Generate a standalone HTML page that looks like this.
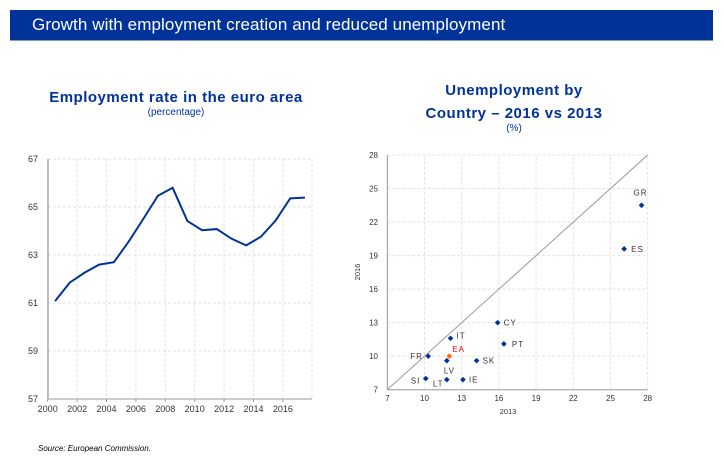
<!DOCTYPE html>
<html><head><meta charset="utf-8"><style>
body{margin:0;width:724px;height:473px;background:#fff;font-family:"Liberation Sans",sans-serif;overflow:hidden;position:relative}
#hdr{position:absolute;left:10px;top:10px;width:703px;height:30px;background:#003399;border-bottom:1px solid #7f99cc}
#hdr span{position:absolute;left:22px;top:5px;color:#fff;font-size:17px;letter-spacing:0.1px}
.t{position:absolute;color:#003399;font-weight:bold;text-align:center;font-size:15px;letter-spacing:0.5px}
.s{position:absolute;color:#003399;text-align:center;font-size:10px}
#src{position:absolute;left:38px;top:444px;font-size:8px;font-style:italic;color:#000}
svg{position:absolute;left:0;top:0}
</style></head><body>
<div id="hdr"><span>Growth with employment creation and reduced unemployment</span></div>
<div class="t" style="left:26px;width:300px;top:89px">Employment rate in the euro area</div>
<div class="s" style="left:26px;width:300px;top:107px">(percentage)</div>
<div class="t" style="left:364px;width:300px;top:79px;line-height:23px">Unemployment by<br>Country – 2016 vs 2013</div>
<div class="s" style="left:364px;width:300px;top:123px">(%)</div>
<div id="src">Source: European Commission.</div>
<svg id="c" width="724" height="473"></svg>
<script>
const years=[2000.5,2001.5,2002.5,2003.5,2004.5,2005.5,2006.5,2007.5,2008.5,2009.5,2010.5,2011.5,2012.5,2013.5,2014.5,2015.5,2016.5,2017.5];
const empRate=[61.08,61.85,62.26,62.6,62.7,63.55,64.5,65.47,65.8,64.42,64.03,64.08,63.68,63.4,63.76,64.43,65.36,65.39];
const yTicksL=[57,59,61,63,65,67];
const xTicksL=[2000,2002,2004,2006,2008,2010,2012,2014,2016];
const countries=["GR","ES","CY","PT","IT","FR","EA","LV","SK","SI","LT","IE"];
const u2013=[27.5,26.1,15.9,16.4,12.1,10.3,12.0,11.8,14.2,10.1,11.8,13.1];
const u2016=[23.5,19.6,13.0,11.1,11.6,10.0,10.0,9.6,9.6,8.0,7.9,7.9];
const ticksR=[7,10,13,16,19,22,25,28];
const labOff={GR:[-8,-10],ES:[7,3],CY:[6,3],PT:[8,3],IT:[6,0],FR:[-18,3],EA:[3,-4],LV:[-3,13],SK:[6,3],SI:[-15,5],LT:[-14,7],IE:[6,3]};
const svg=document.getElementById('c');const NS='http://www.w3.org/2000/svg';
function el(t,a,txt){const e=document.createElementNS(NS,t);for(const k in a)e.setAttribute(k,a[k]);if(txt!==undefined)e.textContent=txt;svg.appendChild(e);return e;}
// left chart
const lx=v=>47.7+(v-2000)*14.7, ly=v=>399-(v-57)*24;
yTicksL.forEach(v=>{const g=el('line',{x1:48,x2:312,y1:ly(v),y2:ly(v),stroke:'#e2e2e2','stroke-dasharray':'3,2'});

const t=el('text',{x:38,y:ly(v)+3,'text-anchor':'end','font-size':9,fill:'#333'},v);
});
xTicksL.forEach(v=>{const g=el('line',{x1:lx(v),x2:lx(v),y1:159,y2:399,stroke:'#e2e2e2','stroke-dasharray':'3,2'});

el('line',{x1:lx(v),x2:lx(v),y1:399,y2:402,stroke:'#999'});
const t=el('text',{x:lx(v),y:412,'text-anchor':'middle','font-size':9,fill:'#333'},v);
});
el('line',{x1:312,x2:312,y1:159,y2:399,stroke:'#e2e2e2','stroke-dasharray':'3,2'});
el('line',{x1:48,x2:48,y1:159,y2:399,stroke:'#aaa','stroke-width':1.5});
el('line',{x1:48,x2:312,y1:399,y2:399,stroke:'#999'});
const ln=el('polyline',{points:years.map((y,i)=>lx(y)+','+ly(empRate[i])).join(' '),fill:'none',stroke:'#003399','stroke-width':2});

// right chart
const rx=v=>387.3+(v-7)*(260.4/21), ry=v=>389.7-(v-7)*(234.7/21);
ticksR.forEach(v=>{const g=el('line',{x1:rx(7),x2:rx(28),y1:ry(v),y2:ry(v),stroke:'#e2e2e2','stroke-dasharray':'3,2'});

const g2=el('line',{x1:rx(v),x2:rx(v),y1:ry(7),y2:ry(28),stroke:'#e2e2e2','stroke-dasharray':'3,2'});

const t=el('text',{x:378,y:ry(v)+3,'text-anchor':'end','font-size':8,fill:'#333'},v);

const t2=el('text',{x:rx(v),y:401,'text-anchor':'middle','font-size':8,fill:'#333'},v);
});
el('line',{x1:rx(7),x2:rx(7),y1:ry(7),y2:ry(28),stroke:'#999'});
el('line',{x1:rx(7),x2:rx(28),y1:ry(7),y2:ry(7),stroke:'#999'});
const d=el('line',{x1:rx(7),y1:ry(7),x2:rx(28),y2:ry(28),stroke:'#999'});

const xt=el('text',{x:508,y:414,'text-anchor':'middle','font-size':7.5,fill:'#333'},'2013');

const yt=el('text',{x:360,y:272,'text-anchor':'middle','font-size':7.5,fill:'#333',transform:'rotate(-90 360 272)'},'2016');

countries.forEach((c,i)=>{const x=rx(u2013[i]),y=ry(u2016[i]);const red=c==='EA';
const p=el('rect',{x:x-2,y:y-2,width:4,height:4,fill:red?'#ff6600':'#003399',transform:`rotate(45 ${x} ${y})`});

const o=labOff[c];const t=el('text',{x:x+o[0],y:y+o[1],'font-size':8,fill:red?'#ff0000':'#333','letter-spacing':'1'},c);
});
</script>
</body></html>
